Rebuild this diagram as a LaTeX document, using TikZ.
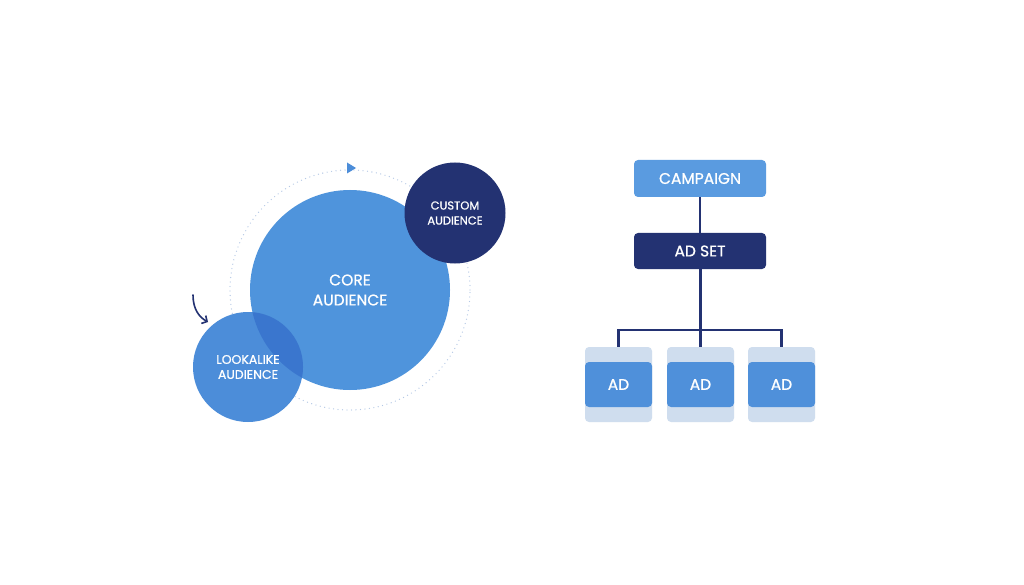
\documentclass[tikz,border=0pt]{standalone}
\usepackage{fontspec}
\setmainfont{Poppins}
\newfontfamily\medfont{Poppins}[FakeBold=0.75]
\usetikzlibrary{arrows.meta}
\definecolor{coreblue}{HTML}{4F94DC}
\definecolor{lookblue}{HTML}{4C8DD9}
\definecolor{overlap}{HTML}{3A76CE}
\definecolor{navy}{HTML}{233272}
\definecolor{campblue}{HTML}{5A9BE0}
\definecolor{adblue}{HTML}{4F90DA}
\definecolor{cardbg}{HTML}{CFDDEE}
\definecolor{dotblue}{HTML}{B4C8E6}
\tikzset{
  bubble/.style={circle, inner sep=0pt, text=white, align=center},
  boxnode/.style={rectangle, rounded corners=4pt, inner sep=0pt, text=white, font=\medfont\fontsize{15.5}{18}\selectfont},
  cardback/.style={rectangle, rounded corners=4pt, fill=cardbg, minimum width=67pt, minimum height=75pt, inner sep=0pt},
  adbox/.style={boxnode, fill=adblue, minimum width=67pt, minimum height=45pt},
  link/.style={draw=navy, line width=2.3pt},
  dotring/.style={draw=dotblue, line width=1.3pt, line cap=round, dash pattern=on 0pt off 4.5pt}
}
\begin{document}
\begin{tikzpicture}[x=1pt,y=-1pt]
\useasboundingbox[fill=white] (0,0) rectangle (1024,585);
% dotted orbit
\draw[dotring] (350,290) circle[radius=120pt];
\fill[lookblue] (347,162.5) -- (356,168) -- (347,173.5) -- cycle;
% circles
\node[bubble, fill=coreblue, minimum size=200pt] (core) at (350,290) {};
\node[bubble, fill=navy, minimum size=101pt, font=\medfont\fontsize{11.5}{15}\selectfont] (custom) at (455,213) {CUSTOM\\AUDIENCE};
\node[bubble, fill=lookblue, minimum size=110pt] (look) at (248,367) {};
\begin{scope}
  \clip (350,290) circle[radius=100pt];
  \fill[overlap] (248,367) circle[radius=55pt];
\end{scope}
\node[text=white, align=center, font=\medfont\fontsize{15.5}{20}\selectfont] (coretxt) at (core.center) {CORE\\AUDIENCE};
\node[text=white, align=center, font=\medfont\fontsize{12.5}{15}\selectfont] (looktxt) at (look.center) {LOOKALIKE\\AUDIENCE};
% curved arrow
\coordinate (ca) at (193,295);
\coordinate (cb) at (208,322);
\draw[navy, line width=1.6pt, line cap=round, -{Straight Barb[length=4pt,width=9pt]}] (ca) .. controls (193,309) and (199,317) .. (cb);
% hierarchy
\node[boxnode, fill=campblue, minimum width=132pt, minimum height=37pt] (campaign) at (700,178.5) {CAMPAIGN};
\node[boxnode, fill=navy, minimum width=132pt, minimum height=36pt] (adset) at (700,251) {AD SET};
\node[cardback] (c1) at (618.5,384.5) {};
\node[cardback] (c2) at (700.5,384.5) {};
\node[cardback] (c3) at (781.5,384.5) {};
\node[adbox] (a1) at (618.5,384.5) {AD};
\node[adbox] (a2) at (700.5,384.5) {AD};
\node[adbox] (a3) at (781.5,384.5) {AD};
\coordinate (bus) at (700.5,330);
\draw[link] (campaign) -- (adset);
\draw[link] (adset.south -| bus) -- (bus);
\draw[link] (c1.north) |- (bus) -| (c3.north);
\draw[link] (bus) -- (c2.north);
\end{tikzpicture}
\end{document}
